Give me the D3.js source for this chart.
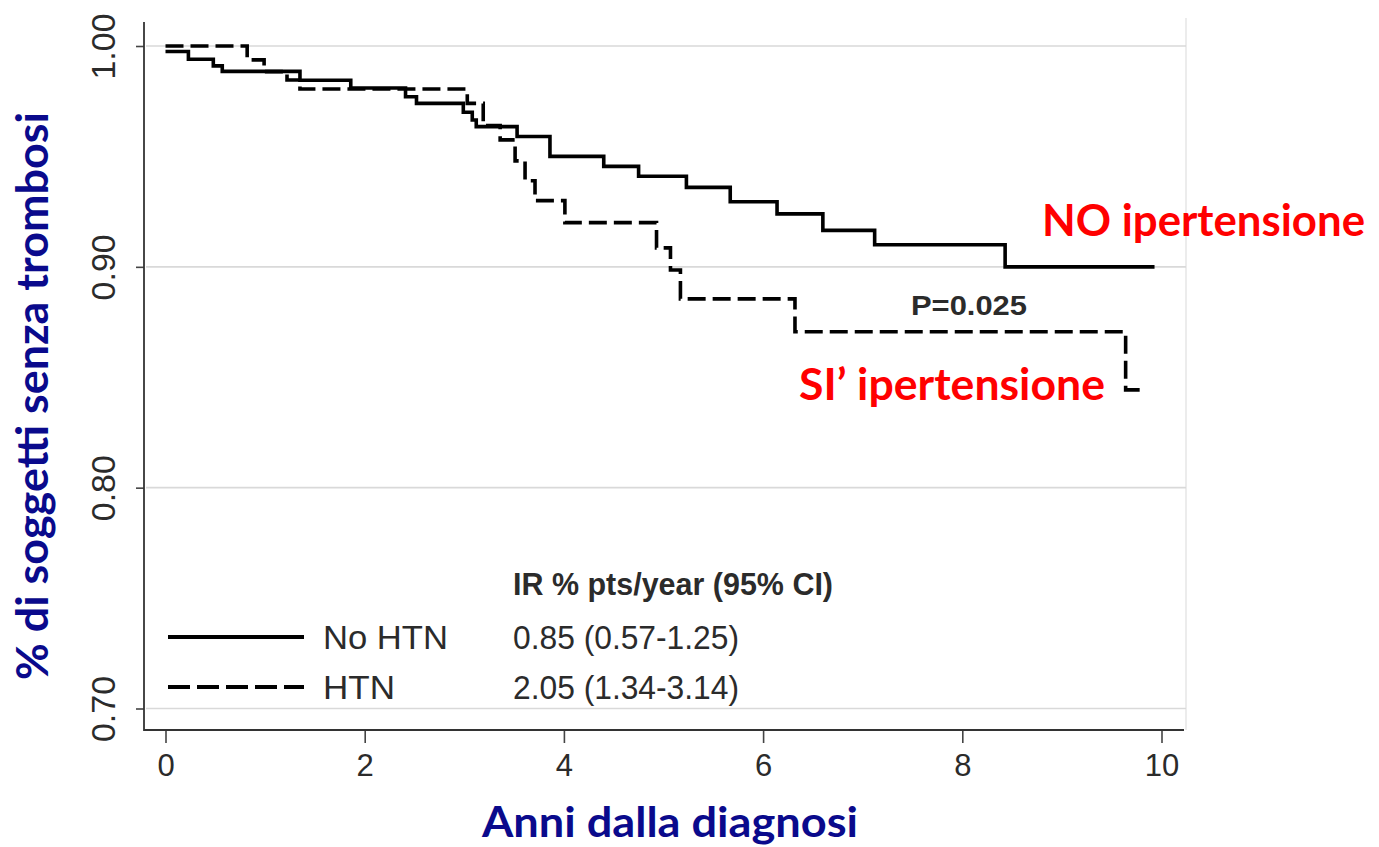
<!DOCTYPE html>
<html>
<head>
<meta charset="utf-8">
<script src="https://cdn.jsdelivr.net/npm/d3@7"></script>
<style>
  body { margin: 0; background: #fff; }
  svg { display: block; }
</style>
</head>
<body>
<div id="viz"></div>
<script>
// Kaplan-Meier: sopravvivenza libera da trombosi, HTN vs no HTN

var width = 1379, height = 847;

// No HTN (linea continua): istanti dei gradini e sopravvivenza
var noHtnTimes = [0, 0.23, 0.48, 0.57, 1.35, 1.86, 2.41, 2.52, 2.99, 3.08, 3.12, 3.53, 3.86, 4.40, 4.75, 5.23, 5.67, 6.14, 6.60, 7.12, 8.43, 9.93];
var noHtnSurv  = [0.9975, 0.994, 0.991, 0.9885, 0.9845, 0.981, 0.977, 0.974, 0.970, 0.9665, 0.9635, 0.959, 0.950, 0.9455, 0.941, 0.936, 0.9295, 0.924, 0.9165, 0.910, 0.900, 0.900];

// HTN (linea tratteggiata)
var htnTimes = [0, 0.82, 0.99, 1.22, 1.35, 3.03, 3.19, 3.36, 3.51, 3.61, 3.71, 4.01, 4.93, 5.07, 5.17, 6.32, 9.64, 9.80];
var htnSurv  = [1.000, 0.9937, 0.9884, 0.9846, 0.9805, 0.974, 0.964, 0.9575, 0.948, 0.939, 0.930, 0.920, 0.9086, 0.8986, 0.8855, 0.8706, 0.8443, 0.8443];

var xTicks = [0, 2, 4, 6, 8, 10];
var yTicks = [0.70, 0.80, 0.90, 1.00];

var legendLabels = ["No HTN", "HTN"];
var irHeader = "IR % pts/year (95% CI)";
var irValues = ["0.85 (0.57-1.25)", "2.05 (1.34-3.14)"];

var navy = "#0a0a8c", red = "#ff0000", ink = "#2b2b2b";

var svg = d3.select("#viz")
  .append("svg")
    .attr("width", width)
    .attr("height", height);

svg.append("rect").attr("width", width).attr("height", height).attr("fill", "#fff");

var x = d3.scaleLinear().domain([0, 10]).range([165.5, 1161.5]);
var y = d3.scaleLinear().domain([0.70, 1.00]).range([708.5, 46]);

var frame = { left: 144, right: 1184, top: 22, bottom: 730 };

// bordo tenue dell'area del grafico
svg.append("line")
  .attr("x1", frame.right + 2).attr("x2", frame.right + 2)
  .attr("y1", frame.top - 4).attr("y2", frame.bottom)
  .attr("stroke", "#ececec").attr("stroke-width", 2);

// griglia
svg.selectAll("line.grid")
  .data(yTicks)
  .enter()
  .append("line")
    .attr("class", "grid")
    .attr("x1", frame.left + 2)
    .attr("x2", frame.right + 2)
    .attr("y1", function (d) { return y(d); })
    .attr("y2", function (d) { return y(d); })
    .attr("stroke", "#d9d9d9")
    .attr("stroke-width", 1.6);

var sans = "'Liberation Sans', Arial, sans-serif";

// assi
var xAxis = svg.append("g")
  .attr("transform", "translate(0," + frame.bottom + ")")
  .call(d3.axisBottom(x).tickValues(xTicks).tickSize(13).tickPadding(11).tickFormat(d3.format("d")));
xAxis.select(".domain").remove();
xAxis.selectAll(".tick line").attr("stroke", "#444").attr("stroke-width", 1.6);
xAxis.selectAll(".tick text")
  .attr("fill", ink)
  .style("font-family", sans)
  .style("font-size", "31px");

var yAxis = svg.append("g")
  .attr("transform", "translate(" + frame.left + ",0)")
  .call(d3.axisLeft(y).tickValues(yTicks).tickSize(8).tickFormat(d3.format(".2f")));
yAxis.select(".domain").remove();
yAxis.selectAll(".tick line").attr("stroke", "#444").attr("stroke-width", 1.6);
yAxis.selectAll(".tick text")
  .attr("x", null).attr("dy", null)
  .attr("transform", "translate(-29,0) rotate(-90)")
  .attr("text-anchor", "middle")
  .attr("fill", ink)
  .style("font-family", sans)
  .style("font-size", "34px");

svg.append("line")
  .attr("x1", frame.left).attr("x2", frame.left)
  .attr("y1", frame.top).attr("y2", frame.bottom + 1)
  .attr("stroke", "#333").attr("stroke-width", 1.8);
svg.append("line")
  .attr("x1", frame.left).attr("x2", frame.right)
  .attr("y1", frame.bottom).attr("y2", frame.bottom)
  .attr("stroke", "#333").attr("stroke-width", 1.8);

// curve
var km = d3.line()
  .x(function (d) { return x(d[0]); })
  .y(function (d) { return y(d[1]); })
  .curve(d3.curveStepAfter);

svg.append("path")
  .datum(d3.zip(noHtnTimes, noHtnSurv))
  .attr("d", km)
  .attr("fill", "none")
  .attr("stroke", "#000")
  .attr("stroke-width", 3.6);

svg.append("path")
  .datum(d3.zip(htnTimes, htnSurv))
  .attr("d", km)
  .attr("fill", "none")
  .attr("stroke", "#000")
  .attr("stroke-width", 3.6)
  .attr("stroke-dasharray", "18,7");

// legenda
var legendY = [637, 687];
svg.selectAll("line.legend")
  .data(legendLabels)
  .enter()
  .append("line")
    .attr("class", "legend")
    .attr("x1", 168).attr("x2", 304)
    .attr("y1", function (d, i) { return legendY[i]; })
    .attr("y2", function (d, i) { return legendY[i]; })
    .attr("stroke", "#000")
    .attr("stroke-width", 3.8)
    .attr("stroke-dasharray", function (d, i) { return i ? "22,7" : null; });

svg.selectAll("text.legend")
  .data(legendLabels)
  .enter()
  .append("text")
    .attr("class", "legend")
    .text(function (d) { return d; })
    .attr("x", 323)
    .attr("y", function (d, i) { return legendY[i] + 12; })
    .attr("textLength", function (d, i) { return i ? 72 : 125; })
    .attr("lengthAdjust", "spacingAndGlyphs")
    .attr("fill", ink)
    .style("font-family", sans)
    .style("font-size", "33px");

svg.append("text")
  .text(irHeader)
  .attr("x", 513).attr("y", 595)
  .attr("textLength", 320)
  .attr("lengthAdjust", "spacingAndGlyphs")
  .attr("fill", ink)
  .style("font-family", sans)
  .style("font-weight", "bold")
  .style("font-size", "31px");

svg.selectAll("text.ir")
  .data(irValues)
  .enter()
  .append("text")
    .attr("class", "ir")
    .text(function (d) { return d; })
    .attr("x", 513)
    .attr("y", function (d, i) { return legendY[i] + 12; })
    .attr("textLength", 226)
    .attr("lengthAdjust", "spacingAndGlyphs")
    .attr("fill", ink)
    .style("font-family", sans)
    .style("font-size", "33px");

svg.append("text")
  .text("P=0.025")
  .attr("x", 911).attr("y", 315)
  .attr("textLength", 116)
  .attr("lengthAdjust", "spacingAndGlyphs")
  .attr("fill", ink)
  .style("font-family", sans)
  .style("font-weight", "bold")
  .style("font-size", "28px");

// etichette rosse
var title = "Lato, 'Open Sans', sans-serif";
svg.append("text")
  .text("NO ipertensione")
  .attr("x", 1042).attr("y", 236)
  .attr("textLength", 323)
  .attr("lengthAdjust", "spacingAndGlyphs")
  .attr("fill", red)
  .style("font-family", title)
  .style("font-weight", "bold")
  .style("font-size", "43px");

svg.append("text")
  .text("SI\u2019 ipertensione")
  .attr("x", 799).attr("y", 400)
  .attr("textLength", 306)
  .attr("lengthAdjust", "spacingAndGlyphs")
  .attr("fill", red)
  .style("font-family", title)
  .style("font-weight", "bold")
  .style("font-size", "43px");

// titoli degli assi
svg.append("text")
  .text("Anni dalla diagnosi")
  .attr("x", 482).attr("y", 837)
  .attr("textLength", 376)
  .attr("lengthAdjust", "spacingAndGlyphs")
  .attr("fill", navy)
  .style("font-family", title)
  .style("font-weight", "bold")
  .style("font-size", "42px");

svg.append("text")
  .text("% di soggetti senza trombosi")
  .attr("transform", "translate(48,396) rotate(-90)")
  .attr("text-anchor", "middle")
  .attr("textLength", 568)
  .attr("lengthAdjust", "spacingAndGlyphs")
  .attr("fill", navy)
  .style("font-family", title)
  .style("font-weight", "bold")
  .style("font-size", "43px");

// The End
</script>
</body>
</html>
